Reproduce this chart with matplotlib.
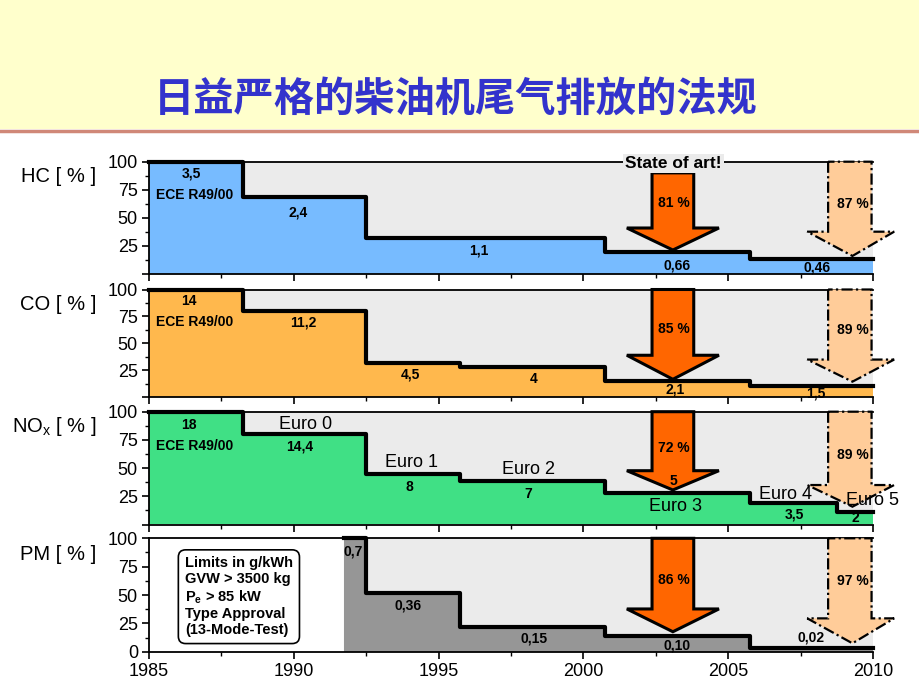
import numpy as np
import matplotlib.pyplot as plt
from matplotlib.patches import Polygon, Rectangle
from matplotlib.lines import Line2D

plt.rcParams['font.family'] = ['Liberation Sans', 'DejaVu Sans']
plt.rcParams['mathtext.fontset'] = 'custom'
plt.rcParams['mathtext.rm'] = 'Liberation Sans'
plt.rcParams['mathtext.bf'] = 'Liberation Sans:bold'

# limit values (g/kWh) and the years they came into force
hc_years = [1985, 1988.25, 1992.5, 2000.75, 2005.75, 2010]
hc_limit = [3.5, 2.4, 1.1, 0.66, 0.46]
hc_text = ['3,5', '2,4', '1,1', '0,66', '0,46']

co_years = [1985, 1988.25, 1992.5, 1995.75, 2000.75, 2005.75, 2010]
co_limit = [14, 11.2, 4.5, 4, 2.1, 1.5]
co_text = ['14', '11,2', '4,5', '4', '2,1', '1,5']

nox_years = [1985, 1988.25, 1992.5, 1995.75, 2000.75, 2005.75, 2008.75, 2010]
nox_limit = [18, 14.4, 8, 7, 5, 3.5, 2]
nox_text = ['18', '14,4', '8', '7', '5', '3,5', '2']
euro_names = ['Euro 0', 'Euro 1', 'Euro 2', 'Euro 3', 'Euro 4', 'Euro 5']

pm_years = [1991.75, 1992.5, 1995.75, 2000.75, 2005.75, 2010]
pm_limit = [0.7, 0.36, 0.15, 0.10, 0.02]
pm_text = ['0,7', '0,36', '0,15', '0,10', '0,02']

cut_now = ['81 %', '85 %', '72 %', '86 %']
cut_next = ['87 %', '89 %', '89 %', '97 %']

panel_names = ['HC [ % ]', 'CO [ % ]', 'NO$_\\mathrm{x}$ [ % ]', 'PM [ % ]']
colors = ['#77BBFF', '#FFB84D', '#40E085', '#969696']

fig = plt.figure(figsize=(9.2, 6.9), dpi=100)

# slide header
fig.patches.append(Rectangle((0, 1 - 129 / 690), 1, 129 / 690, transform=fig.transFigure,
                             facecolor='#FFFFCC', edgecolor='none', zorder=0))
fig.lines.append(Line2D([0, 1], [1 - 131 / 690] * 2, transform=fig.transFigure,
                        color='#D08878', lw=2.5))
fig.text(0.495, 1 - 99 / 690, '日益严格的柴油机尾气排放的法规', ha='center', va='center',
         fontsize=29, color='#3333CC', fontweight='bold',
         family=['Noto Sans CJK SC', 'DejaVu Sans'])

# axes boxes in pixels (top, bottom)
boxes = [(161.7, 273.5), (289.5, 397.3), (411.7, 524.5), (538.3, 651.7)]
label_y = [177, 305, 427, 555]
left, right = 149 / 920, 873 / 920

# label positions (x, y) per panel, in data coords
hc_pos = [(1986.45, 89), (1990.15, 55), (1996.4, 21), (2003.24, 7.6), (2008.08, 5.5)]
co_pos = [(1986.39, 89), (1990.33, 69), (1994.02, 20.7), (1998.28, 17), (2003.18, 6.8), (2008.02, 3.7)]
nox_pos = [(1986.39, 88), (1990.22, 69), (1994.0, 33), (1998.11, 27), (2003.12, 38.6), (2007.27, 9.3), (2009.4, 5.5)]
pm_pos = [(1992.06, 88), (1993.96, 40.3), (1998.28, 11.8), (2003.22, 5.9), (2007.85, 12.7)]
euro_pos = [(1990.39, 89), (1994.08, 55), (1998.11, 49), (2003.18, 15.8), (2006.98, 27), (2009.98, 21)]

orange_y = [(90, 40.7, 21), (100, 39, 16.7), (100, 47.7, 30.6), (100, 37.7, 17.6)]
peach_y = [(100, 37.4, 15.7), (100, 35, 14.5), (100, 35, 15.8), (100, 29.4, 7.4)]


def arrow(ax, xs, ys, **kw):
    sl, sr, hl, hr, tip = xs
    top, head, end = ys
    pts = [(sl, top), (sl, head), (hl, head), (tip, end), (hr, head), (sr, head), (sr, top)]
    ax.add_patch(Polygon(pts, closed=True, clip_on=False, zorder=4, **kw))


panels = [(hc_years, hc_limit, hc_text, hc_pos),
          (co_years, co_limit, co_text, co_pos),
          (nox_years, nox_limit, nox_text, nox_pos),
          (pm_years, pm_limit, pm_text, pm_pos)]

for i, (years, limit, texts, pos) in enumerate(panels):
    top, bot = boxes[i]
    ax = fig.add_axes([left, 1 - bot / 690, right - left, (bot - top) / 690])
    pct = [v / limit[0] * 100 for v in limit]
    yy = pct + [pct[-1]]

    ax.axvspan(years[0], 2010, color='#EBEBEB', zorder=0)
    ax.fill_between(years, yy, step='post', color=colors[i], lw=0, zorder=1)
    ax.step(years, yy, where='post', color='black', lw=3, zorder=3, clip_on=False)

    ax.set_xlim(1985, 2010)
    ax.set_ylim(0, 100)
    ax.set_xticks(np.arange(1985, 2011, 5))
    ax.set_xticks(np.arange(1987.5, 2010, 2.5), minor=True)
    ax.set_yticks([0, 25, 50, 75, 100])
    ax.set_yticks([12.5, 37.5, 62.5, 87.5], minor=True)
    if i < 3:
        ax.set_yticklabels(['', '25', '50', '75', '100'])
        ax.tick_params(labelbottom=False)
    ax.spines['right'].set_visible(False)
    for s in ['left', 'bottom', 'top']:
        ax.spines[s].set_linewidth(1.3)
    ax.tick_params(which='major', direction='out', length=5, width=1.2, labelsize=13, pad=3)
    ax.tick_params(which='minor', direction='out', length=3, width=1)

    fig.text(96 / 920, 1 - label_y[i] / 690, panel_names[i], ha='right', va='center', fontsize=14.5)

    # reduction arrows
    arrow(ax, (2002.37, 2003.81, 2001.5, 2004.68, 2003.09), orange_y[i],
          facecolor='#FF6600', edgecolor='black', lw=2.2)
    arrow(ax, (2008.45, 2009.95, 2007.73, 2010.73, 2009.29), peach_y[i],
          facecolor='#FFCC99', edgecolor='black', lw=1.6, linestyle=(0, (5, 1.5, 1, 1.5)))
    ax.text(2003.12, 63 if i != 2 else 67.6, cut_now[i], ha='center', va='center',
            fontsize=10, fontweight='bold', zorder=6)
    ax.text(2009.29, 62, cut_next[i], ha='center', va='center',
            fontsize=10, fontweight='bold', zorder=6)

    for t, (x, y) in zip(texts, pos):
        ax.text(x, y, t, ha='center', va='center', fontsize=10, fontweight='bold', zorder=6)

    if i < 3:
        ax.text(1986.59, 70, 'ECE R49/00', ha='center', va='center',
                fontsize=10, fontweight='bold', zorder=6)
    if i == 0:
        ax.text(2003.12, 98.6, 'State of art!', ha='center', va='center', fontsize=12.5,
                fontweight='bold', zorder=7, clip_on=False,
                bbox=dict(facecolor='#EBEBEB', edgecolor='none', pad=1.5))
    if i == 2:
        for t, (x, y) in zip(euro_names, euro_pos):
            ax.text(x, y, t, ha='center', va='center', fontsize=13, zorder=6, clip_on=False)
    if i == 3:
        ax.text(1986.24, 48.5,
                'Limits in g/kWh\nGVW > 3500 kg\nP$_\\mathbf{e}$ > 85 kW\nType Approval\n(13-Mode-Test)',
                ha='left', va='center', fontsize=10.5, fontweight='bold', linespacing=1.15,
                zorder=6, bbox=dict(boxstyle='round,pad=0.45,rounding_size=0.5',
                                    facecolor='white', edgecolor='black', lw=1.2))

fig.savefig('out.png', dpi=100)
